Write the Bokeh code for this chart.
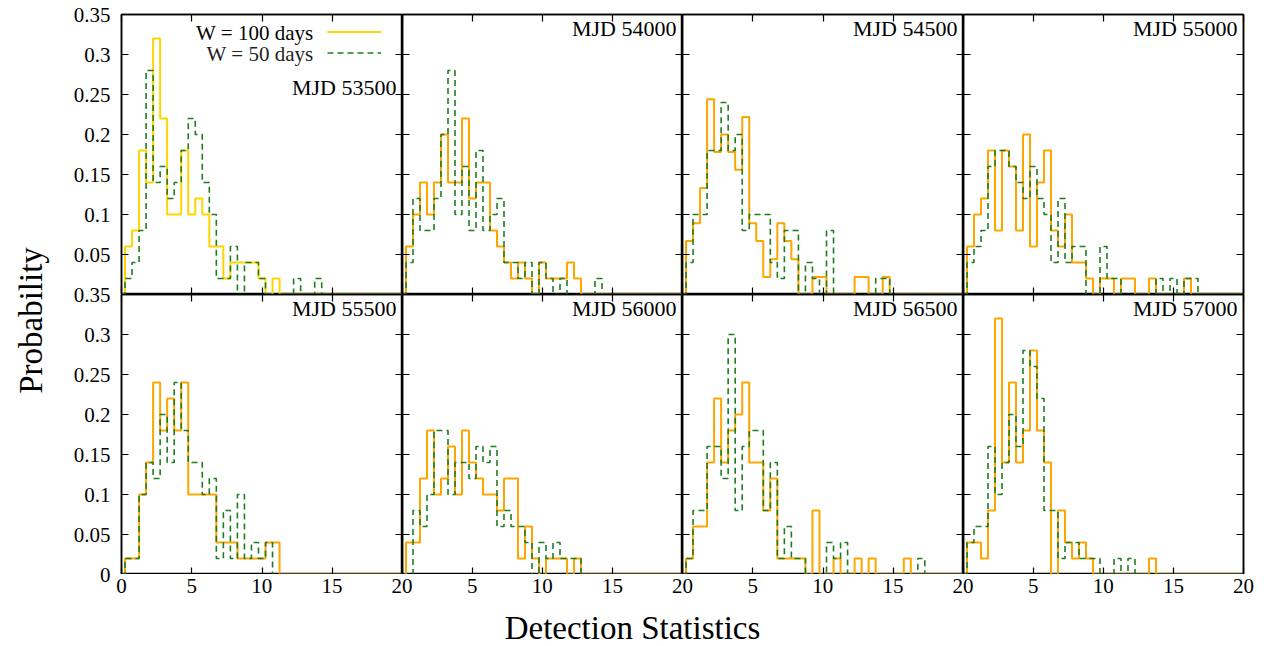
import math
from bokeh.plotting import figure
from bokeh.layouts import row, column
from bokeh.models import (Range1d, LinearAxis, FixedTicker, Label, Legend,
                          LegendItem, ColumnDataSource)
from bokeh.core.properties import value
from bokeh.embed import file_html
from bokeh.resources import INLINE

FONT = "Liberation Serif"

# ---------------- data ----------------
panel_titles = ["MJD 53500", "MJD 54000", "MJD 54500", "MJD 55000",
                "MJD 55500", "MJD 56000", "MJD 56500", "MJD 57000"]
series_names = ["W = 100 days", "W = 50 days"]
x_label = "Detection Statistics"
y_label = "Probability"

bin_width = 0.5
n_bins = 41
x_ticks = [0, 5, 10, 15, 20]
x_tick_labels = ["0", "5", "10", "15", "20"]
y_ticks = [0, 0.05, 0.1, 0.15, 0.2, 0.25, 0.3, 0.35]
y_tick_labels = ["0", "0.05", "0.1", "0.15", "0.2", "0.25", "0.3", "0.35"]

w100_53500 = [0, .06, .08, .18, .14, .32, .22, .10, .10, .18, .10, .12, .10, .06, .06,
              .02, .04, .04, .04, .04, .02, 0, .02]
w50_53500 = [0, .02, .04, .08, .28, .14, .16, .12, .14, .18, .22, .20, .14, .10, .02,
             .02, .06, 0, .04, .04, .02, 0, 0, 0, 0, .02, 0, 0, .02]

w100_54000 = [0, .06, .10, .14, .10, .14, .20, .14, .14, .22, .12, .14, .14, .08, .06,
              .04, .02, .04, .02, 0, .04, .02, .02, .02, .04, .02]
w50_54000 = [0, .04, .12, .08, .08, .12, .20, .28, .10, .16, .08, .18, .08, .10, .12,
             .04, .04, .02, .04, 0, .04, .02, 0, .02, 0, 0, 0, 0, .02]

w100_54500 = [0, .067, .089, .133, .244, .178, .200, .178, .156, .222, .089, .067, .022,
              .044, .089, .067, .044, 0, 0, .022, .022, 0, 0, 0, 0, .022, .022, 0, 0, .022]
w50_54500 = [0, .04, .10, .10, .18, .18, .24, .18, .20, .08, .10, .10, .10, .04, .02,
             .08, .08, 0, .04, .02, 0, .08, 0, 0, 0, 0, 0, 0, .02, .02]

w100_55000 = [0, .06, .10, .12, .18, .08, .18, .16, .08, .20, .06, .14, .18, .08, .06,
              .10, .04, .04, .02, 0, .02, .02, 0, .02, .02, 0, 0, .02, 0, 0, 0, 0, .02]
w50_55000 = [0, .04, .06, .08, .16, .18, .18, .16, .14, .12, .16, .12, .10, .04, .12,
             .04, .06, .06, 0, 0, .06, .02, .02, 0, 0, 0, 0, 0, .02, 0, .02, 0, .02, .02]

w100_55500 = [0, .02, .02, .10, .14, .24, .18, .22, .18, .24, .10, .10, .10, .10, .04,
              .04, .04, .02, .02, .02, .02, .04, .04]
w50_55500 = [0, .02, .02, .10, .14, .12, .20, .14, .24, .18, .14, .14, .10, .12, .02,
             .08, .02, .10, .02, .04, .02, .04]

w100_56000 = [0, .04, .04, .12, .18, .10, .12, .16, .10, .18, .14, .12, .10, .10, .08,
              .12, .12, .02, .06, .02, 0, .02, .02, .02, 0, .02]
w50_56000 = [0, 0, .08, .06, .10, .18, .18, .10, .14, .14, .12, .16, .14, .16, .06,
             .08, .06, .06, .04, 0, .04, .02, .04, .02, .02, .02]

w100_56500 = [0, .02, .06, .06, .14, .22, .14, .18, .20, .24, .14, .14, .08, .12, .02,
              .02, .02, .02, 0, .08, 0, 0, .02, 0, 0, .02, 0, .02, 0, 0, 0, 0, .02]
w50_56500 = [0, .02, .08, .08, .16, .16, .12, .30, .08, .16, .18, .18, .08, .14, .02,
             .06, .02, .02, 0, 0, 0, .04, .02, .04, 0, 0, 0, 0, 0, 0, 0, 0, 0, 0, .02]

w100_57000 = [0, .04, .04, .02, .08, .32, .14, .24, .14, .18, .28, .18, .14, 0, .08,
              .04, .02, .04, .02, 0, 0, 0, 0, 0, 0, 0, 0, .02]
w50_57000 = [0, .04, .06, .06, .16, .10, .14, .20, .16, .28, .26, .22, .08, .08, .02,
             .04, .04, .02, .02, .02, 0, 0, .02, 0, .02]

panel_series = [
    (w100_53500, w50_53500), (w100_54000, w50_54000),
    (w100_54500, w50_54500), (w100_55000, w50_55000),
    (w100_55500, w50_55500), (w100_56000, w50_56000),
    (w100_56500, w50_56500), (w100_57000, w50_57000),
]

# ---------------- style / layout ----------------
GOLD = "#FFD400"
ORANGE = "#FFA500"
GREEN = "#1E7D1E"
FW = [281, 280, 281, 280]
FH = 280
TITLE_W = 60      # strip holding "Probability"
YTICK_W = 52      # strip holding the y tick labels
PAD_L = 9         # gap between y-tick strip and first frame
TOP = 14
RIGHT = 26
XTICK_H = 32
XTITLE_H = 40
TOTAL_W = 1269
TICK_FONT = "21px"


def padded(v):
    return list(v) + [0.0] * (n_bins - len(v))


bin_centers = [i * bin_width for i in range(n_bins)]


def add_tick_axis(p, side, ticks):
    ax = LinearAxis(ticker=FixedTicker(ticks=ticks), major_tick_in=7, major_tick_out=0,
                    minor_tick_line_color=None, axis_line_color="black",
                    axis_line_width=1.5, major_tick_line_color="black",
                    major_tick_line_width=1.2, major_label_text_color=None,
                    major_label_text_font_size="0px", major_label_standoff=0)
    p.add_layout(ax, side)
    return ax


panels = []
for idx in range(8):
    r_i, c_i = divmod(idx, 4)
    w100, w50 = panel_series[idx]
    p = figure(frame_width=FW[c_i], frame_height=FH,
               x_range=Range1d(0, 20), y_range=Range1d(0, 0.35),
               output_backend="svg", toolbar_location=None,
               x_axis_location=None, y_axis_location=None,
               min_border_left=PAD_L if c_i == 0 else 0,
               min_border_right=RIGHT if c_i == 3 else 0,
               min_border_top=TOP if r_i == 0 else 0,
               min_border_bottom=0,
               outline_line_color="black", outline_line_width=1.5,
               background_fill_color="white", border_fill_color="white")
    p.grid.visible = False
    for side in ("left", "right"):
        add_tick_axis(p, side, y_ticks)
    for side in ("above", "below"):
        add_tick_axis(p, side, x_ticks)

    src = ColumnDataSource(dict(x=bin_centers, w100=padded(w100), w50=padded(w50)))
    c100 = GOLD if idx == 0 else ORANGE
    r1 = p.step("x", "w100", source=src, mode="center", line_color=c100, line_width=2)
    r2 = p.step("x", "w50", source=src, mode="center", line_color=GREEN,
                line_width=1.6, line_dash="6 4")

    title_y = 207 if idx == 0 else 266
    p.add_layout(Label(x=FW[c_i] - 6, y=title_y, x_units="screen", y_units="screen",
                       text=panel_titles[idx], text_align="right", text_baseline="middle",
                       text_font=FONT, text_font_size="22px", text_color="black"))

    if idx == 0:
        leg = Legend(items=[LegendItem(label=value(" "), renderers=[r1]),
                            LegendItem(label=value(" "), renderers=[r2])],
                     location=(206, 231), glyph_width=54, glyph_height=21,
                     label_width=0, label_height=21, label_standoff=0,
                     padding=0, margin=0, spacing=0, border_line_color=None,
                     background_fill_alpha=0, label_text_color=None,
                     label_text_font_size="10px")
        p.add_layout(leg)
        p.add_layout(Label(x=192, y=262, x_units="screen", y_units="screen",
                           text=series_names[0], text_align="right", text_baseline="middle",
                           text_font=FONT, text_font_size="21px", text_color="black"))
        p.add_layout(Label(x=192, y=241, x_units="screen", y_units="screen",
                           text=series_names[1], text_align="right", text_baseline="middle",
                           text_font=FONT, text_font_size="21px", text_color="#222222"))
    panels.append(p)

# ---- x tick labels: one axis spanning the four columns
n_x = len(x_ticks)
x_strip_ticks = [x_ticks[1] * k for k in range(4 * (n_x - 1) + 1)]
x_strip_labels = {}
for k, t in enumerate(x_strip_ticks):
    if k == 0:
        x_strip_labels[t] = x_tick_labels[0]
    elif k % (n_x - 1) == 0:
        x_strip_labels[t] = x_tick_labels[-1]
    else:
        x_strip_labels[t] = x_tick_labels[k % (n_x - 1)]

xticks = figure(frame_width=sum(FW), frame_height=1,
                x_range=Range1d(0, x_strip_ticks[-1]), y_range=Range1d(0, 1),
                output_backend="svg", toolbar_location=None,
                x_axis_location=None, y_axis_location=None,
                min_border_left=PAD_L, min_border_right=RIGHT,
                min_border_top=0, min_border_bottom=XTICK_H - 1,
                outline_line_color=None, border_fill_color="white",
                background_fill_color="white")
xticks.grid.visible = False
xticks.add_layout(LinearAxis(ticker=FixedTicker(ticks=x_strip_ticks),
                             major_label_overrides=x_strip_labels,
                             major_tick_in=0, major_tick_out=0,
                             major_tick_line_color=None, minor_tick_line_color=None,
                             axis_line_color=None, major_label_standoff=3,
                             major_label_text_font=FONT, major_label_text_font_size=TICK_FONT,
                             major_label_text_color="black"), "below")

grid = column(row(*panels[:4], spacing=0), row(*panels[4:], spacing=0), xticks, spacing=0)

# ---- y tick labels: one axis spanning both rows (bottom row 0..0.35, top row 0.35..0.7)
n_y = len(y_ticks)
y_strip_ticks = [round(y_ticks[1] * k, 2) for k in range(2 * n_y - 1)]
y_strip_labels = {}
for k, t in enumerate(y_strip_ticks):
    y_strip_labels[t] = y_tick_labels[k] if k < n_y else y_tick_labels[k - (n_y - 1)]

yticks = figure(frame_width=1, frame_height=2 * FH,
                x_range=Range1d(0, 1), y_range=Range1d(0, y_strip_ticks[-1]),
                output_backend="svg", toolbar_location=None,
                x_axis_location=None, y_axis_location=None,
                min_border_left=YTICK_W - 1, min_border_right=0,
                min_border_top=TOP, min_border_bottom=XTICK_H,
                outline_line_color=None, border_fill_color="white",
                background_fill_color="white")
yticks.grid.visible = False
yticks.add_layout(LinearAxis(ticker=FixedTicker(ticks=y_strip_ticks),
                             major_label_overrides=y_strip_labels,
                             major_tick_in=0, major_tick_out=0,
                             major_tick_line_color=None, minor_tick_line_color=None,
                             axis_line_color=None, major_label_standoff=1,
                             major_label_text_font=FONT, major_label_text_font_size=TICK_FONT,
                             major_label_text_color="black"), "left")

ytitle = figure(frame_width=TITLE_W, frame_height=2 * FH,
                x_range=Range1d(0, 1), y_range=Range1d(0, 1),
                output_backend="svg", toolbar_location=None,
                x_axis_location=None, y_axis_location=None,
                min_border_left=0, min_border_right=0,
                min_border_top=TOP, min_border_bottom=XTICK_H,
                outline_line_color=None, border_fill_color="white",
                background_fill_color="white")
ytitle.grid.visible = False
ytitle.add_layout(Label(x=30, y=TOP + 2 * FH - 320, x_units="screen", y_units="screen",
                        text=y_label, angle=math.pi / 2, text_align="center",
                        text_baseline="middle", text_font=FONT, text_font_size="33px",
                        text_color="black"))

xtitle = figure(width=TOTAL_W, height=XTITLE_H, x_range=Range1d(0, 1), y_range=Range1d(0, 1),
                output_backend="svg", toolbar_location=None,
                x_axis_location=None, y_axis_location=None,
                min_border=0, outline_line_color=None, border_fill_color="white")
xtitle.grid.visible = False
xtitle.add_layout(Label(x=632, y=19, x_units="screen", y_units="screen",
                        text=x_label, text_align="center", text_baseline="middle",
                        text_font=FONT, text_font_size="33px", text_color="black"))

layout = column(row(ytitle, yticks, grid, spacing=0), row(xtitle, spacing=0), spacing=0)

open("out.html", "w").write(file_html(layout, INLINE, title=""))
